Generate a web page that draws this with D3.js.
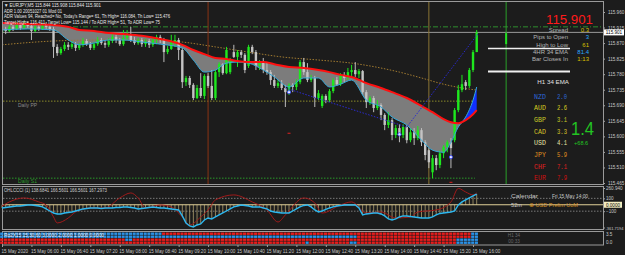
<!DOCTYPE html>
<html>
<head>
<meta charset="utf-8">
<script src="https://cdnjs.cloudflare.com/ajax/libs/d3/7.8.5/d3.min.js"></script>
<style>
  body { margin: 0; background: #1c1c1c; }
  text { font-family: "Liberation Sans", Arial, sans-serif; }
  .axis path { display: none; }
  .axis line { stroke: #a0a0a0; }
  .axis text { fill: #c8c8c8; font-size: 4.6px; }
</style>
</head>
<body>
<div id="containerGraph"></div>
<script>
// ---------- data (EURJPY M5, 15 May 2020) ----------
var openP = [115.899,115.911,115.905,115.917,115.911,115.922,115.914,115.925,115.920,115.905,
  115.917,115.911,115.922,115.917,115.911,115.859,115.841,115.853,115.865,115.859,
  115.867,115.856,115.865,115.876,115.867,115.856,115.867,115.879,115.870,115.865,
  115.876,115.888,115.879,115.867,115.885,115.894,115.879,115.870,115.879,115.867,
  115.876,115.865,115.879,115.888,115.879,115.844,115.853,115.873,115.879,115.850,
  115.757,115.769,115.749,115.711,115.740,115.717,115.775,115.746,115.711,115.786,
  115.809,115.783,115.786,115.844,115.830,115.844,115.836,115.804,115.859,115.844,
  115.804,115.815,115.792,115.786,115.763,115.746,115.754,115.740,115.728,115.749,
  115.743,115.757,115.815,115.786,115.763,115.769,115.711,115.688,115.717,115.705,
  115.731,115.763,115.751,115.778,115.769,115.786,115.792,115.780,115.789,115.728,
  115.699,115.711,115.682,115.691,115.662,115.633,115.647,115.604,115.624,115.604,
  115.627,115.589,115.612,115.595,115.618,115.583,115.560,115.496,115.537,115.517,
  115.551,115.569,115.583,115.589,115.676,115.734,115.757,115.746,115.792,115.844];
var highP = [115.917,115.917,115.922,115.922,115.931,115.928,115.934,115.931,115.925,115.922,
  115.922,115.928,115.931,115.925,115.917,115.867,115.859,115.873,115.873,115.876,
  115.873,115.870,115.885,115.882,115.873,115.873,115.888,115.885,115.879,115.885,
  115.896,115.894,115.885,115.908,115.908,115.917,115.888,115.885,115.885,115.882,
  115.882,115.885,115.894,115.894,115.885,115.862,115.894,115.894,115.885,115.856,
  115.775,115.775,115.754,115.749,115.783,115.780,115.783,115.792,115.792,115.815,
  115.812,115.859,115.827,115.865,115.850,115.850,115.841,115.865,115.865,115.850,
  115.821,115.827,115.815,115.792,115.778,115.763,115.763,115.749,115.754,115.754,
  115.766,115.821,115.827,115.812,115.778,115.775,115.734,115.722,115.722,115.737,
  115.769,115.772,115.783,115.786,115.798,115.807,115.815,115.795,115.792,115.734,
  115.717,115.717,115.705,115.696,115.667,115.670,115.653,115.633,115.635,115.635,
  115.633,115.624,115.624,115.630,115.624,115.589,115.566,115.546,115.546,115.560,
  115.575,115.589,115.595,115.682,115.749,115.778,115.763,115.798,115.850,115.908];
var lowP = [115.894,115.896,115.902,115.905,115.908,115.908,115.911,115.914,115.879,115.902,
  115.905,115.908,115.911,115.905,115.827,115.833,115.836,115.847,115.850,115.853,
  115.847,115.850,115.859,115.862,115.850,115.850,115.862,115.865,115.856,115.859,
  115.870,115.870,115.862,115.862,115.879,115.873,115.865,115.865,115.859,115.859,
  115.856,115.859,115.867,115.870,115.815,115.838,115.850,115.859,115.821,115.740,
  115.746,115.740,115.705,115.708,115.711,115.708,115.740,115.705,115.705,115.772,
  115.778,115.780,115.780,115.827,115.801,115.827,115.783,115.798,115.838,115.792,
  115.792,115.783,115.778,115.749,115.740,115.740,115.734,115.685,115.720,115.728,
  115.734,115.751,115.778,115.757,115.757,115.685,115.705,115.682,115.696,115.699,
  115.725,115.746,115.746,115.757,115.763,115.775,115.772,115.769,115.720,115.682,
  115.691,115.670,115.676,115.647,115.618,115.624,115.589,115.595,115.583,115.595,
  115.580,115.583,115.575,115.589,115.572,115.531,115.508,115.479,115.502,115.508,
  115.537,115.554,115.508,115.583,115.670,115.728,115.734,115.740,115.786,115.844];
var closeP = [115.911,115.905,115.917,115.911,115.922,115.914,115.925,115.920,115.905,115.917,
  115.911,115.922,115.917,115.911,115.859,115.841,115.853,115.865,115.859,115.867,
  115.856,115.865,115.876,115.867,115.856,115.867,115.879,115.870,115.865,115.876,
  115.888,115.879,115.867,115.885,115.894,115.879,115.870,115.879,115.867,115.876,
  115.865,115.879,115.888,115.879,115.844,115.853,115.873,115.879,115.850,115.757,
  115.769,115.749,115.711,115.740,115.717,115.775,115.746,115.711,115.786,115.809,
  115.783,115.850,115.821,115.830,115.844,115.836,115.792,115.859,115.844,115.804,
  115.815,115.792,115.786,115.763,115.746,115.754,115.740,115.728,115.749,115.743,
  115.757,115.815,115.786,115.763,115.769,115.711,115.725,115.717,115.705,115.731,
  115.763,115.751,115.778,115.769,115.786,115.792,115.780,115.789,115.728,115.699,
  115.711,115.682,115.691,115.662,115.633,115.647,115.604,115.624,115.604,115.627,
  115.589,115.612,115.595,115.618,115.583,115.546,115.525,115.537,115.517,115.551,
  115.569,115.583,115.566,115.676,115.734,115.751,115.746,115.792,115.844,115.901];

// moving averages, read at some bars
var emaIdx  = [0,7,14,18,21,25,29,33,38,43,49,52,55,58,61,64,67,71,74,78,82,86,89,92,95,99,103,106,110,114,117,120,122,124,126,128,129];
var emaSlow = [115.928,115.925,115.922,115.917,115.908,115.905,115.899,115.896,115.891,115.882,115.865,115.850,115.838,115.827,115.824,115.818,115.815,115.815,115.809,115.801,115.798,115.792,115.786,115.778,115.772,115.754,115.740,115.728,115.711,115.688,115.670,115.650,115.641,115.638,115.647,115.664,115.676];
var emaFast = [115.908,115.911,115.908,115.879,115.865,115.870,115.879,115.879,115.873,115.867,115.856,115.821,115.786,115.792,115.812,115.815,115.812,115.792,115.772,115.743,115.769,115.769,115.743,115.751,115.763,115.705,115.685,115.656,115.633,115.589,115.560,115.554,115.583,115.627,115.656,115.705,115.743];
var maIdx = [0,14,27,40,49,58,67,76,86,95,108,114,120,125,129];
var maLong = [115.865,115.876,115.879,115.879,115.873,115.859,115.844,115.830,115.821,115.812,115.786,115.769,115.751,115.740,115.734];

var trendIdx = [77, 110, 129.5];
var trendPrice = [115.740, 115.627, 115.899];
var signalIdx = [78, 108, 122];
var signalPrice = [115.728, 115.606, 115.540];
var redMarkIdx = [78, 122];
var redMarkPrice = [115.609, 115.467];

var dailyPP = 115.702, dailyS1 = 115.479, dayLevel = 115.917, lastPrice = 115.901;
var sessionIdx = [56, 116];
var futureIdx = 137, futureBar = [115.899, 115.867];

// oscillator (CCI)
var cci = [-50,-42,-34,-26,-19,-19,-11,-3,-3,-11,-19,-34,-65,-97,-128,-143,-143,-128,-120,-112,
  -97,-81,-65,-58,-50,-50,-50,-58,-50,-50,-50,-42,-42,-34,-34,-42,-50,-65,-58,-50,
  -42,-34,-42,-50,-50,-58,-65,-73,-81,-174,-283,-330,-346,-315,-299,-237,-206,-221,-190,-159,
  -128,-97,-65,-34,-19,-3,-11,-19,-34,-34,-34,-50,-65,-97,-112,-120,-128,-128,-128,-97,
  -65,-34,-11,-3,-34,-81,-112,-97,-73,-50,-34,-19,-11,-3,-3,-3,-3,-50,-159,-143,
  -135,-128,-128,-143,-174,-221,-237,-221,-190,-174,-174,-182,-190,-198,-206,-206,-206,-190,-159,-135,
  -128,-120,-112,-97,-3,44,75,106,138,167];
var cciSigIdx = [0,2,6,10,12,14,15,18,20,24,28,32,35,37,39,43,46,49,51,54,56,58,63,68,72,75,77,82,85,87,92,95,99,103,107,111,113,118,122,124,126,128,129];
var cciSig = [-19,44,106,44,-3,-190,-283,-206,-112,-50,-50,106,184,106,-50,-3,-34,-190,-315,-190,-81,75,153,44,-81,-268,-159,106,28,-128,-3,44,-128,-112,-206,-190,-112,-81,44,255,199,153,184];

// strength grid, run-length per row ("B" blue, "R" red)
var gridRuns = [
  [["B",44],["R",84],["B",2]],
  [["B",97],["R",31],["B",2]],
  [["R",34],["B",2],["R",88],["B",6]],
  [["R",83],["B",1],["R",11],["B",2],["R",27],["B",6]]
];

var timeLabels = ["15 May 2020","15 May 06:00","15 May 06:40","15 May 07:20","15 May 08:00","15 May 08:40",
  "15 May 09:20","15 May 10:00","15 May 10:40","15 May 11:20","15 May 12:00","15 May 12:40",
  "15 May 13:20","15 May 14:00","15 May 14:40","15 May 15:20","15 May 16:00"];
var timeLabelBars = [0,8,16,24,32,40,48,56,64,72,80,88,96,104,112,120,128];
var priceTicks = [115.960,115.915,115.870,115.825,115.780,115.735,115.690,115.645,115.600,115.555,115.510,115.465];

var infoLabels = ["Spread","Pips to Open","High to Low","4HR 34 EMA","Bar Closes In"];
var infoValues = ["0.3","3","61","81.4","1:13"];
var currencies = ["NZD","AUD","GBP","CAD","USD","JPY","CHF","EUR"];
var strength = [2.0,2.6,3.1,3.3,4.1,5.9,7.1,7.9];

var headerLines = [
  "\u25BC EURJPY,M5  115.844 115.908 115.844 115.901",
  "ADR 1.00 20051027 01 Mod 01",
  "ADR Values 94, Reached= No, Today's Range= 61, Th High= 116.084, Th Low= 115.476",
  "Target High= 116.411, Target Low= 115.144 / To ADR High= 51, To ADR Low= 75"
];

// ---------- chart ----------
var svg = d3.select("#containerGraph").append("svg")
    .attr("width", 625).attr("height", 255)
    .style("display", "block").style("background", "#1c1c1c");

var x = d3.scaleLinear().domain([0, 129]).range([2, 476.7]);
var y = d3.scaleLinear().domain([115.465, 115.960]).range([183, 12]);
var yOsc = d3.scaleLinear().domain([-361.7194, 260.940]).range([228, 188]);
var yGrid = d3.scaleBand().domain([0, 1, 2, 3]).range([232.5, 244.5]);
var step = x(1) - x(0);

function txt(g, px, py, s, size, color, anchor, len) {
  var t = g.append("text").attr("x", px).attr("y", py).text(s)
      .attr("font-size", size).attr("fill", color).attr("text-anchor", anchor || "start");
  if (len) t.attr("textLength", len).attr("lengthAdjust", "spacingAndGlyphs");
  return t;
}

// panel frames
var frame = svg.append("g").attr("fill", "none").attr("stroke", "#9a9a9a");
frame.append("rect").attr("x", 2.5).attr("y", 1.5).attr("width", 601).attr("height", 183);
frame.append("rect").attr("x", 2.5).attr("y", 186.5).attr("width", 601).attr("height", 43);
frame.append("rect").attr("x", 2.5).attr("y", 231.5).attr("width", 601).attr("height", 13.5);

svg.append("clipPath").attr("id", "mainClip").append("rect")
    .attr("x", 3).attr("y", 2).attr("width", 600).attr("height", 182);
var main = svg.append("g").attr("clip-path", "url(#mainClip)");

// horizontal levels
main.append("line").attr("x1", 3).attr("x2", x(128.5)).attr("y1", y(dailyPP)).attr("y2", y(dailyPP))
    .attr("stroke", "#8a8a2a").attr("stroke-dasharray", "1.5,1.5");
main.append("line").attr("x1", 3).attr("x2", x(128.5)).attr("y1", y(dailyS1)).attr("y2", y(dailyS1))
    .attr("stroke", "#2a9a2a").attr("stroke-dasharray", "1.5,1.5");
main.append("line").attr("x1", 3).attr("x2", 603).attr("y1", y(dayLevel)).attr("y2", y(dayLevel))
    .attr("stroke", "#2f8f2f").attr("stroke-dasharray", "5,2,1,2");
main.append("line").attr("x1", 3).attr("x2", 603).attr("y1", y(lastPrice)).attr("y2", y(lastPrice))
    .attr("stroke", "#9a9a9a");

// vertical session lines
main.append("line").attr("x1", x(sessionIdx[0])).attr("x2", x(sessionIdx[0])).attr("y1", 2).attr("y2", 184)
    .attr("stroke", "#8b3414");
main.append("line").attr("x1", x(sessionIdx[1])).attr("x2", x(sessionIdx[1])).attr("y1", 2).attr("y2", 184)
    .attr("stroke", "#8a7434");
main.append("line").attr("x1", x(futureIdx)).attr("x2", x(futureIdx)).attr("y1", 2).attr("y2", 184)
    .attr("stroke", "#2aa02a");
main.append("rect").attr("x", x(futureIdx) - 1).attr("y", y(futureBar[0]))
    .attr("width", 2).attr("height", y(futureBar[1]) - y(futureBar[0])).attr("fill", "#22e022");

// band between the two EMAs
var band = emaIdx.map(function(d, i) { return { i: d, s: y(emaSlow[i]), f: y(emaFast[i]) }; });
main.append("path").datum(band)
    .attr("d", d3.area().curve(d3.curveMonotoneX)
        .x(function(d) { return x(d.i); })
        .y0(function(d) { return d.s; })
        .y1(function(d) { return Math.max(d.s, d.f); }))
    .attr("fill", "#7c7c7c");
main.append("path").datum(band)
    .attr("d", d3.area().curve(d3.curveMonotoneX)
        .x(function(d) { return x(d.i); })
        .y0(function(d) { return d.s; })
        .y1(function(d) { return Math.min(d.s, d.f); }))
    .attr("fill", "#1030ff");

// long MA (dotted brown)
main.append("path").datum(maIdx)
    .attr("d", d3.line().curve(d3.curveMonotoneX)
        .x(function(d) { return x(d); })
        .y(function(d, i) { return y(maLong[i]); }))
    .attr("fill", "none").attr("stroke", "#a07a30").attr("stroke-dasharray", "1.5,1.5");

// candles
var bars = main.append("g").selectAll("g").data(closeP).enter().append("g");
bars.append("line")
    .attr("x1", function(d, i) { return x(i); })
    .attr("x2", function(d, i) { return x(i); })
    .attr("y1", function(d, i) { return y(highP[i]); })
    .attr("y2", function(d, i) { return y(lowP[i]); })
    .attr("stroke", function(d, i) { return d >= openP[i] ? "#1ee81e" : "#bcbcbc"; });
bars.append("rect")
    .attr("x", function(d, i) { return x(i) - 1.2; })
    .attr("width", 2.4)
    .attr("y", function(d, i) { return y(Math.max(d, openP[i])); })
    .attr("height", function(d, i) { return Math.max(1, Math.abs(y(d) - y(openP[i]))); })
    .attr("fill", function(d, i) { return d >= openP[i] ? "#1ee81e" : "#c4c4c4"; });

// EMA lines
main.append("path").datum(emaIdx)
    .attr("d", d3.line().curve(d3.curveMonotoneX)
        .x(function(d) { return x(d); })
        .y(function(d, i) { return y(emaFast[i]); }))
    .attr("fill", "none").attr("stroke", "#35a8d8").attr("stroke-width", 1);
main.append("path").datum(emaIdx)
    .attr("d", d3.line().curve(d3.curveMonotoneX)
        .x(function(d) { return x(d); })
        .y(function(d, i) { return y(emaSlow[i]); }))
    .attr("fill", "none").attr("stroke", "#ff1010").attr("stroke-width", 2);

// trend lines
main.append("path").datum(trendIdx)
    .attr("d", d3.line().x(function(d) { return x(d); }).y(function(d, i) { return y(trendPrice[i]); }))
    .attr("fill", "none").attr("stroke", "#2a2ad0").attr("stroke-dasharray", "1.5,1.5");

// signal markers
main.selectAll(".sig").data(signalIdx).enter().append("circle")
    .attr("cx", function(d) { return x(d); }).attr("cy", function(d, i) { return y(signalPrice[i]); })
    .attr("r", 1.6).attr("fill", "#e8e8ff").attr("stroke", "#3040ff").attr("stroke-width", 0.8);
main.selectAll(".rm").data(redMarkIdx).enter().append("line")
    .attr("x1", function(d) { return x(d) - 1.5; }).attr("x2", function(d) { return x(d) + 1.5; })
    .attr("y1", function(d, i) { return y(redMarkPrice[i]); }).attr("y2", function(d, i) { return y(redMarkPrice[i]); })
    .attr("stroke", "#e02020").attr("stroke-width", 1);

// white reference bars on the right
main.append("line").attr("x1", 488).attr("x2", 570).attr("y1", 48.5).attr("y2", 48.5)
    .attr("stroke", "#f0f0f0").attr("stroke-width", 1.3);
main.append("line").attr("x1", 488).attr("x2", 570).attr("y1", 71.5).attr("y2", 71.5)
    .attr("stroke", "#f0f0f0").attr("stroke-width", 2.2);

// texts in main panel
var tg = svg.append("g");
var headerLen = [97, 58, 166, 156];
headerLines.forEach(function(s, i) {
  txt(tg, 4, 7 + i * 5.7, s, 5, "#e8e8e8", "start", headerLen[i]);
});
txt(tg, 18, 107, "Daily PP", 4.8, "#8a8a8a", "start", 19);
txt(tg, 18, 183, "Daily S1", 4.8, "#2a9a2a", "start", 19);

txt(tg, 593, 24, "115.901", 12.5, "#ff1a1a", "end", 47);
var infoColors = ["#d8c000", "#2aa8ff", "#d8c000", "#2aa8ff", "#d8c000"];
infoLabels.forEach(function(s, i) {
  txt(tg, 568, 32 + i * 7.3, s, 6, "#b4b4b4", "end");
  txt(tg, 589, 32 + i * 7.3, infoValues[i], 6, infoColors[i], "end");
});
txt(tg, 569, 83.5, "H1 34 EMA", 6.2, "#e0e0e0", "end");

var curColors = ["#2e68d8", "#d8cc20", "#c8c828", "#d8c028", "#e6e2a8", "#e09020", "#e02020", "#d01010"];
currencies.forEach(function(c, i) {
  txt(tg, 534, 98.5 + i * 11.7, c, 6.6, curColors[i], "start").style("font-family", "'Liberation Mono', monospace");
  txt(tg, 557, 98.5 + i * 11.7, strength[i].toFixed(1), 6.6, curColors[i], "start", 10).style("font-family", "'Liberation Mono', monospace");
});
txt(tg, 594, 135, "1.4", 18, "#22c422", "end", 23);
txt(tg, 574, 144.5, "+68.6", 5.6, "#22c422", "start");

// price axis
var yAxis = d3.axisRight(y).tickValues(priceTicks).tickSize(2).tickFormat(d3.format(".3f"));
svg.append("g").attr("class", "axis").attr("transform", "translate(603,0)").call(yAxis);
svg.append("rect").attr("x", 604).attr("y", y(lastPrice) - 3).attr("width", 20).attr("height", 6).attr("fill", "#ffffff");
txt(svg, 614, y(lastPrice) + 1.8, "115.901", 4.6, "#000000", "middle");

// ---------- oscillator panel ----------
var osc = svg.append("g");
osc.append("line").attr("x1", 3).attr("x2", 603).attr("y1", yOsc(100)).attr("y2", yOsc(100))
    .attr("stroke", "#7a7a7a").attr("stroke-dasharray", "1.5,1.5");
osc.append("line").attr("x1", 3).attr("x2", 603).attr("y1", yOsc(-100)).attr("y2", yOsc(-100))
    .attr("stroke", "#7a7a7a").attr("stroke-dasharray", "1.5,1.5");
osc.selectAll(".h").data(cci).enter().append("line")
    .attr("x1", function(d, i) { return x(i); }).attr("x2", function(d, i) { return x(i); })
    .attr("y1", yOsc(0)).attr("y2", function(d) { return yOsc(d); })
    .attr("stroke", "#b0a070").attr("stroke-width", 0.8);
osc.append("line").attr("x1", 3).attr("x2", 603).attr("y1", yOsc(0)).attr("y2", yOsc(0))
    .attr("stroke", "#e0d098").attr("stroke-width", 1.2);
osc.append("path").datum(cciSigIdx)
    .attr("d", d3.line().curve(d3.curveMonotoneX)
        .x(function(d) { return x(d); }).y(function(d, i) { return yOsc(cciSig[i]); }))
    .attr("fill", "none").attr("stroke", "#a01a1a").attr("stroke-width", 1);
osc.append("path").datum(cci)
    .attr("d", d3.line().x(function(d, i) { return x(i); }).y(function(d) { return yOsc(d); }))
    .attr("fill", "none").attr("stroke", "#2cb8f0").attr("stroke-width", 1.4);
txt(osc, 4, 192, "OHLCCCI (1) 138.6841 166.5601 166.5601 167.2973", 4.8, "#d0d0d0", "start", 103);

txt(osc, 511, 198, "Calendar", 6, "#c8c8c8", "start", 27);
txt(osc, 552, 198, "Fri 15 May 14:00", 5.6, "#c8c8c8", "start", 36);
txt(osc, 511, 206.5, "52m", 5.6, "#c8c8c8", "start", 11);
txt(osc, 529, 206.5, "\u2295 USD Prelim UoM", 5.6, "#d89020", "start", 49);

var oscAxis = d3.axisRight(yOsc).tickValues([260.940, 100, -100]).tickSize(2)
    .tickFormat(function(d) { return d === 260.940 ? "260.940" : d3.format("d")(d); });
var oa = svg.append("g").attr("class", "axis").attr("transform", "translate(603,0)").call(oscAxis);
oa.selectAll("text").attr("x", 3);
// bottom value of the oscillator scale, kept inside the window
svg.append("line").attr("x1", 603).attr("x2", 605).attr("y1", yOsc(-361.7194)).attr("y2", yOsc(-361.7194))
    .attr("stroke", "#a0a0a0");
txt(svg, 623.5, yOsc(-361.7194) + 1.5, "-361.7194", 4, "#c8c8c8", "end");
svg.append("rect").attr("x", 604).attr("y", yOsc(0) - 3).attr("width", 18).attr("height", 6).attr("fill", "#f4ecc0");
txt(svg, 613, yOsc(0) + 1.8, "0.0000", 4.6, "#000000", "middle");

// ---------- strength grid ----------
var grid = svg.append("g");
gridRuns.forEach(function(runs, r) {
  var pos = 0;
  runs.forEach(function(run) {
    for (var k = 0; k < run[1]; k++) {
      grid.append("rect")
          .attr("x", x(pos) - step / 2).attr("y", yGrid(r))
          .attr("width", step - 0.6).attr("height", yGrid.bandwidth() - 0.6)
          .attr("fill", run[0] === "B" ? "#2a92e8" : "#e81c1c");
      pos++;
    }
  });
});
txt(grid, 4, 237, "Ro2X15 15,30,60 3.0000 2.0000 1.0000 0.0000", 4.6, "#f0f0f0", "start", 100);
txt(grid, 514, 237, "H1 34", 4.6, "#6a6a6a", "middle");
txt(grid, 514, 243, "00:33", 4.6, "#6a6a6a", "middle");
txt(svg, 606, 235.5, "3.5", 4.6, "#c8c8c8", "start");
txt(svg, 606, 243.5, "0.0", 4.6, "#c8c8c8", "start");

// ---------- time axis ----------
var xAxis = d3.axisBottom(x).tickValues(timeLabelBars).tickSize(2)
    .tickFormat(function(d, i) { return timeLabels[i]; });
var xg = svg.append("g").attr("class", "axis").attr("transform", "translate(0,245)").call(xAxis);
xg.selectAll("text").attr("text-anchor", "start").attr("dx", "-1").attr("y", 4.5);
</script>
</body>
</html>
